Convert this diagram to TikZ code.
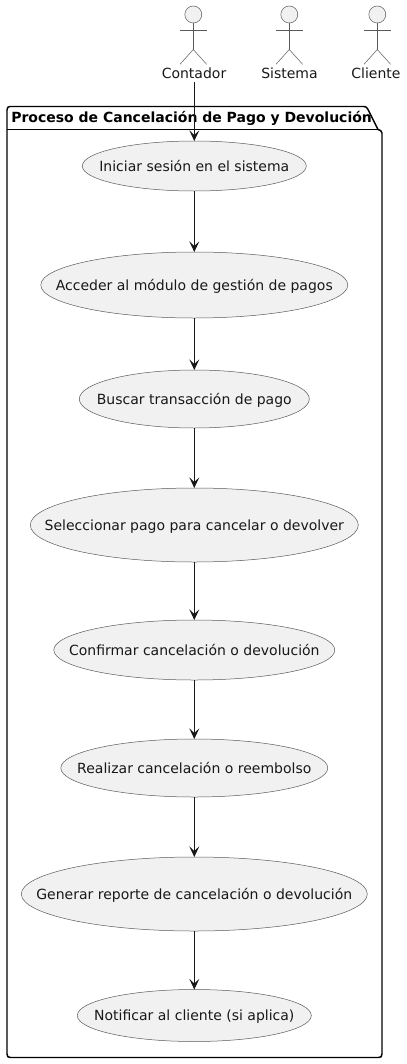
\documentclass[tikz,border=0pt]{standalone}
\usepackage{fontspec}
\setmainfont{DejaVu Sans}
\usetikzlibrary{shapes.geometric,arrows.meta}
\definecolor{ucfill}{HTML}{F1F1F1}
\definecolor{ucline}{HTML}{181818}
\definecolor{thinline}{HTML}{5A5A5A}
\tikzset{
  usecase/.style={ellipse,draw=thinline,fill=ucfill,line width=0.375pt,inner sep=0pt,outer sep=0pt,text=ucline,font=\fontsize{10.5pt}{12pt}\selectfont},
  flow/.style={draw=ucline,line width=0.75pt,-{Stealth[length=8pt,width=7.5pt,inset=3.5pt]}},
  actorpart/.style={draw=thinline,line width=0.375pt},
  actorlabel/.style={inner sep=0pt,text=ucline,font=\fontsize{10.5pt}{12pt}\selectfont},
  pkg/.style={draw=black,line width=1.1pt,line join=round}
}
\newcommand{\ucnode}[5]{\node[usecase,minimum width=#3*0.75pt,minimum height=#4*0.75pt] (#1) at (194.3,#2) {\makebox[0pt]{\smash{\raisebox{-3.75pt}{#5}}}};}
\newcommand{\actorfig}[4]{%
  \node[circle,actorpart,fill=ucfill,minimum size=12.75pt,inner sep=0pt] (#1head) at (#2,14.5) {};
  \coordinate (#1hip) at (#2,49.5);
  \draw[actorpart] (#1head.south) -- (#1hip);
  \draw[actorpart] (#2-13.3,30) -- (#2+13.3,30);
  \draw[actorpart] (#2-13.3,64.3) -- (#1hip) -- (#2+13.3,64.3);
  \node[actorlabel] (#1) at (#3,73) {#4};
}
\begin{document}
\begin{tikzpicture}[x=0.75pt,y=-0.75pt]
\useasboundingbox (0,0) rectangle (407,1064);
% package
\draw[pkg] (10,106.5) -- (364,106.5) .. controls (366,106.5) and (367,107.5) .. (368,109.5) -- (378,129.5) .. controls (380,130) and (382,131) .. (382,133)
  -- (382,1054) .. controls (382,1056.5) and (381,1057.5) .. (378.5,1057.5) -- (10.5,1057.5) .. controls (8,1057.5) and (7,1056.5) .. (7,1054) -- (7,110) .. controls (7,107.5) and (8,106.5) .. (10,106.5) -- cycle;
\coordinate (tabL) at (7,129.5);
\coordinate (tabR) at (378,129.5);
\draw[pkg] (tabL) -- (tabR);
\node[anchor=base west,inner sep=0pt,font=\fontsize{10.5pt}{12pt}\selectfont\bfseries] (pkgtitle) at (11,122) {Proceso de Cancelación de Pago y Devolución};
% actors
\actorfig{contador}{193.3}{194}{Contador}
\actorfig{sistema}{289.3}{289.5}{Sistema}
\actorfig{cliente}{377.3}{376}{Cliente}
% use cases
\ucnode{a}{166}{224}{50}{Iniciar sesión en el sistema}
\ucnode{b}{285}{307}{66}{Acceder al módulo de gestión de pagos}
\ucnode{c}{399}{230}{58}{Buscar transacción de pago}
\ucnode{d}{525}{328}{74}{Seleccionar pago para cancelar o devolver}
\ucnode{e}{650}{281}{60}{Confirmar cancelación o devolución}
\ucnode{f}{768}{267}{58}{Realizar cancelación o reembolso}
\ucnode{g}{894}{346}{74}{Generar reporte de cancelación o devolución}
\ucnode{h}{1015.5}{234}{52}{Notificar al cliente (si aplica)}
% connectors
\draw[flow] (contador.south -| a.north) ++(0,3) -- (a.north);
\draw[flow] (a.south) -- (b.north);
\draw[flow] (b.south) -- (c.north);
\draw[flow] (c.south) -- (d.north);
\draw[flow] (d.south) -- (e.north);
\draw[flow] (e.south) -- (f.north);
\draw[flow] (f.south) -- (g.north);
\draw[flow] (g.south) -- (h.north);
\end{tikzpicture}
\end{document}
